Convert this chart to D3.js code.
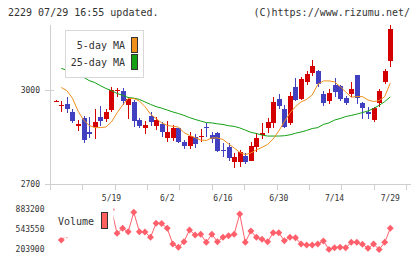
<!DOCTYPE html>
<html lang="ja">
<head>
<meta charset="UTF-8">
<title>2229 daily chart</title>
<script src="https://d3js.org/d3.v7.min.js"></script>
<style>
  body { margin: 0; background: #fff; }
  svg { display: block; font-family: "DejaVu Sans Mono", monospace; }
  .lbl { fill: #333; font-size: 8px; }
  .head { fill: #333; font-size: 10px; }
  .legend text { fill: #333; font-size: 10px; }
</style>
</head>
<body>
<svg id="chart" width="420" height="259"></svg>
<script>
  const dates = ["5/1","5/2","5/7","5/8","5/9","5/12","5/13","5/14","5/15","5/16",
    "5/19","5/20","5/21","5/22","5/23","5/26","5/27","5/28","5/29","5/30",
    "6/2","6/3","6/4","6/5","6/6","6/9","6/10","6/11","6/12","6/13",
    "6/16","6/17","6/18","6/19","6/20","6/23","6/24","6/25","6/26","6/27",
    "6/30","7/1","7/2","7/3","7/4","7/7","7/8","7/9","7/10","7/11",
    "7/14","7/15","7/16","7/17","7/18","7/22","7/23","7/24","7/25","7/28","7/29"];

  const opens = [2965,2949,2955,2931,2886,2912,2866,2883,2913,2907,
    2936,2996,2997,2952,2963,2904,2878,2917,2885,2891,
    2846,2848,2878,2833,2822,2851,2852,2883,2857,2862,
    2810,2819,2769,2771,2789,2775,2818,2855,2878,2894,
    2972,2939,2896,3011,2971,3026,3055,3061,2987,2966,
    3016,3013,2975,2987,3048,2957,2931,2905,2958,3026,3094];
  const highs = [2967,2966,2979,2938,2904,2917,2915,2938,2949,2938,
    3011,3006,3005,2979,2968,2910,2902,2931,2915,2899,
    2901,2888,2880,2840,2865,2860,2876,2894,2866,2867,
    2830,2831,2798,2808,2798,2835,2862,2894,2910,2979,
    2986,2952,2995,3037,3043,3062,3096,3064,2998,3002,
    3037,3016,2981,3027,3048,2963,2947,2945,3002,3066,3207];
  const lows = [2964,2930,2926,2894,2869,2832,2846,2844,2885,2899,
    2929,2979,2952,2907,2882,2878,2860,2886,2872,2851,
    2833,2837,2830,2812,2812,2816,2835,2851,2832,2803,
    2787,2775,2752,2755,2764,2772,2803,2845,2862,2880,
    2939,2880,2888,2966,2968,3015,3046,3008,2950,2954,
    2977,2965,2952,2979,2956,2906,2906,2898,2947,3019,3074];
  const closes = [2966,2952,2938,2902,2891,2840,2860,2899,2902,2931,
    3000,3000,2965,2971,2901,2885,2888,2899,2904,2867,
    2867,2880,2833,2822,2853,2827,2853,2878,2843,2806,
    2808,2784,2786,2801,2769,2822,2848,2864,2899,2963,
    2950,2883,2981,2968,3035,3050,3077,3018,2957,2991,
    2995,2971,2957,3003,2976,2944,2923,2942,2997,3061,3195];

  const ma5 = [null,3008,2998,2974,2933,2904,2887,2880,2880,2882,
    2898,2927,2952,2973,2973,2965,2947,2923,2909,2895,
    2887,2884,2882,2864,2855,2848,2840,2839,2847,2847,
    2842,2828,2815,2801,2794,2799,2809,2817,2826,2844,
    2869,2899,2926,2947,2962,2970,2984,3018,3029,3029,
    3026,3011,2994,2977,2979,2979,2968,2963,2966,2979,3022];
  const ma25 = [null,3069,3063,3056,3049,3041,3030,3024,3014,3005,
    2998,2989,2983,2976,2974,2970,2962,2954,2947,2942,
    2936,2930,2925,2919,2912,2906,2901,2896,2895,2892,
    2890,2886,2884,2879,2872,2865,2861,2856,2853,2853,
    2853,2854,2857,2862,2866,2871,2877,2880,2890,2895,
    2904,2909,2915,2919,2923,2928,2933,2941,2951,2963,2978];

  const volumes = [null,365200,450000,610000,470000,690000,560000,500000,630000,540000,
    883200,479000,563900,506200,835700,506200,502000,411100,648800,645000,
    563900,297300,241300,336400,535100,450100,462000,326200,462000,336400,
    411100,438300,462000,806800,326200,518100,411100,377100,336400,489200,
    489200,353300,411100,404300,297300,280300,280300,297300,348300,206000,
    234500,241300,234500,326200,326200,292200,224300,297300,203900,326200,563900];

  const priceTicks = [2700, 3000];
  const volTicks = [203900, 543550, 883200];
  const dateLabels = ["5/19", "6/2", "6/16", "6/30", "7/14", "7/29"];

  const upColor = "#d40000";
  const downColor = "#4040c0";
  const ma5Color = "#f0901c";
  const ma25Color = "#14a014";
  const volColor = "#ff5f6b";
  const axisColor = "#cfcfcf";

  const svg = d3.select("#chart");

  const x = d3.scalePoint().domain(dates).range([55.7, 390.3]);
  const y = d3.scaleLinear().domain([2700, 3210]).range([184, 24.2]);
  const yv = d3.scaleLinear().domain([203900, 883200]).range([249.5, 209.5]);
  const grid = d3.scaleLinear().domain([0, 11]).range([50, 406]);

  // header
  svg.append("text").attr("class", "head")
    .attr("x", 8).attr("y", 16).text("2229 07/29 16:55 updated.");
  svg.append("text").attr("class", "head")
    .attr("x", 410).attr("y", 16).attr("text-anchor", "end")
    .text("(C)https://www.rizumu.net/");

  // axes
  const ax = svg.append("g").attr("stroke", axisColor).attr("shape-rendering", "crispEdges");
  ax.append("line").attr("x1", 50.5).attr("x2", 50.5).attr("y1", 25).attr("y2", 184);
  ax.append("line").attr("x1", 50).attr("x2", 411).attr("y1", 184.5).attr("y2", 184.5);
  ax.selectAll(".xt").data(d3.range(12)).enter().append("line")
    .attr("x1", d => Math.round(grid(d)) + 0.5).attr("x2", d => Math.round(grid(d)) + 0.5)
    .attr("y1", 184).attr("y2", 190);
  ax.selectAll(".yt").data(priceTicks).enter().append("line")
    .attr("x1", 45).attr("x2", 54)
    .attr("y1", d => Math.round(y(d)) + 0.5).attr("y2", d => Math.round(y(d)) + 0.5);

  svg.selectAll(".plbl").data(priceTicks).enter().append("text")
    .attr("class", "lbl").attr("x", 40).attr("y", d => y(d))
    .attr("text-anchor", "end").attr("dominant-baseline", "middle")
    .text(d => d);

  svg.selectAll(".dlbl").data(dateLabels).enter().append("text")
    .attr("class", "lbl").attr("x", d => x(d)).attr("y", 198)
    .attr("text-anchor", "middle").attr("dominant-baseline", "middle")
    .text(d => d);

  // candles
  const candles = svg.append("g").attr("shape-rendering", "crispEdges");
  dates.forEach((d, i) => {
    const cx = Math.round(x(d));
    const col = closes[i] >= opens[i] ? upColor : downColor;
    candles.append("line")
      .attr("x1", cx + 0.5).attr("x2", cx + 0.5)
      .attr("y1", y(highs[i])).attr("y2", y(lows[i]))
      .attr("stroke", col);
    const top = y(Math.max(opens[i], closes[i]));
    const bot = y(Math.min(opens[i], closes[i]));
    candles.append("rect")
      .attr("x", cx - 2).attr("width", 5)
      .attr("y", top).attr("height", Math.max(1, bot - top))
      .attr("fill", col);
  });

  // moving averages
  const maLine = d3.line()
    .defined(v => v != null)
    .x((v, i) => x(dates[i]))
    .y(v => y(v));
  svg.append("path").datum(ma25).attr("d", maLine)
    .attr("fill", "none").attr("stroke", ma25Color).attr("stroke-width", 1);
  svg.append("path").datum(ma5).attr("d", maLine)
    .attr("fill", "none").attr("stroke", ma5Color).attr("stroke-width", 1);

  // price legend
  const lg = svg.append("g").attr("class", "legend");
  lg.append("rect").attr("x", 65.5).attr("y", 30.5).attr("width", 78).attr("height", 47)
    .attr("fill", "#fff").attr("stroke", "#d8d8d8");
  [["5-day MA", ma5Color], ["25-day MA", ma25Color]].forEach((e, k) => {
    lg.append("text").attr("x", 125).attr("y", 46 + k * 16.7)
      .attr("text-anchor", "end").attr("dominant-baseline", "middle").text(e[0]);
    lg.append("rect").attr("x", 131.5).attr("y", 37.5 + k * 17).attr("width", 6).attr("height", 15)
      .attr("fill", e[1]).attr("stroke", "#333");
  });

  // volume
  const volLine = d3.line()
    .defined(v => v != null)
    .x((v, i) => x(dates[i]))
    .y(v => yv(v));
  svg.append("path").datum(volumes).attr("d", volLine)
    .attr("fill", "none").attr("stroke", volColor).attr("stroke-width", 1);
  const diamond = d3.symbol().type(d3.symbolSquare).size(24);
  svg.selectAll(".vpt").data(volumes.map((v, i) => ({ v, d: dates[i] })).filter(p => p.v != null))
    .enter().append("path")
    .attr("d", diamond)
    .attr("transform", p => `translate(${x(p.d)},${yv(p.v)}) rotate(45)`)
    .attr("fill", volColor);

  svg.selectAll(".vlbl").data(volTicks).enter().append("text")
    .attr("class", "lbl").attr("x", 44.5).attr("y", d => yv(d) - 0.5)
    .attr("text-anchor", "end").attr("dominant-baseline", "middle")
    .text(d => d);

  // volume legend (white box hides the line under it)
  const vl = svg.append("g").attr("class", "legend");
  vl.append("rect").attr("x", 55).attr("y", 205).attr("width", 58.5).attr("height", 32.5)
    .attr("fill", "#fff");
  vl.append("text").attr("x", 58).attr("y", 222).attr("dominant-baseline", "middle").text("Volume");
  vl.append("rect").attr("x", 101.5).attr("y", 212.5).attr("width", 6).attr("height", 16)
    .attr("fill", "#ff6060").attr("stroke", "#333");
</script>
</body>
</html>
